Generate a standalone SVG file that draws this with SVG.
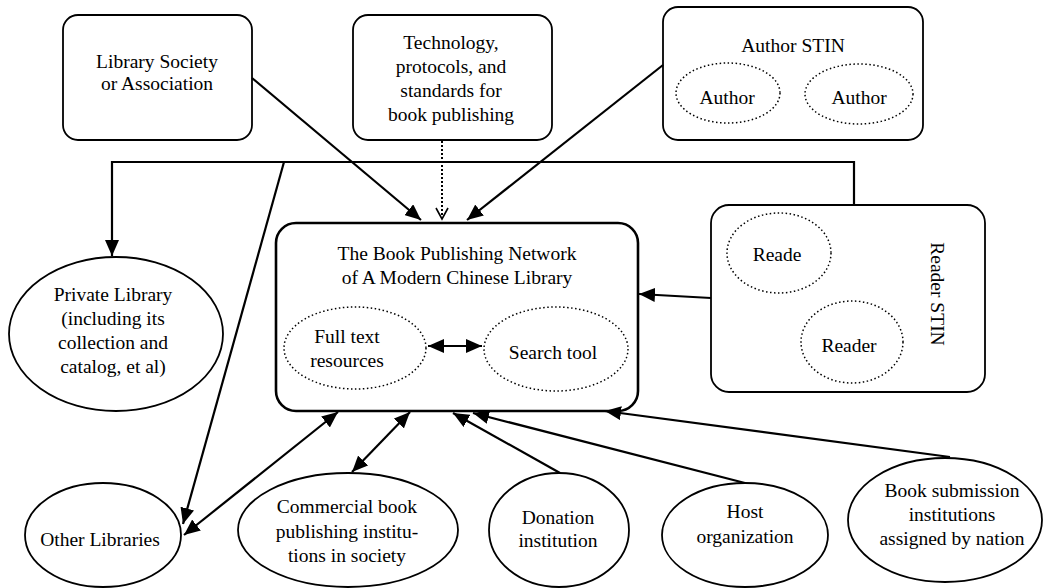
<svg xmlns="http://www.w3.org/2000/svg" width="1049" height="588" viewBox="0 0 1049 588" font-family="Liberation Serif, serif">
<defs>
<style>
text{font-size:19.5px;fill:#000;text-anchor:middle}
.box{fill:#fff;stroke:#000;stroke-width:1.8}
.main{fill:#fff;stroke:#000;stroke-width:2.6}
.ell{fill:#fff;stroke:#000;stroke-width:1.8}
.dot{fill:#fff;stroke:#000;stroke-width:1.5;stroke-dasharray:1.5,2.5}
.con{fill:none;stroke:#000;stroke-width:2.2}
.dotcon{fill:none;stroke:#000;stroke-width:2;stroke-dasharray:2,2}
</style>
<marker id="arr" viewBox="0 0 16 14" refX="16" refY="7" markerWidth="16" markerHeight="14" markerUnits="userSpaceOnUse" orient="auto-start-reverse">
<path d="M0,0 L16,7 L0,14 z" fill="#000"/>
</marker>
<marker id="open" viewBox="0 0 14 14" refX="12" refY="7" markerWidth="14" markerHeight="14" markerUnits="userSpaceOnUse" orient="auto">
<path d="M1,1 L12,7 L1,13" fill="none" stroke="#000" stroke-width="1.6"/>
</marker>
</defs>
<rect width="1049" height="588" fill="#fff"/>

<g id="library-society">
<rect class="box" x="63" y="15" width="189" height="125" rx="15"/>
<text x="157" y="68">Library Society</text>
<text x="157" y="90">or Association</text>
</g>

<g id="technology">
<rect class="box" x="353" y="15" width="199" height="125" rx="15"/>
<text x="451" y="49">Technology,</text>
<text x="451" y="73">protocols, and</text>
<text x="451" y="97">standards for</text>
<text x="451" y="121">book publishing</text>
</g>

<g id="author-stin">
<rect class="box" x="663" y="7" width="260" height="133" rx="15"/>
<text x="793" y="52">Author STIN</text>
<g id="author1">
<ellipse class="dot" cx="728" cy="93" rx="52" ry="30"/>
<text x="727" y="104">Author</text>
</g>
<g id="author2">
<ellipse class="dot" cx="859" cy="94" rx="54" ry="30"/>
<text x="859" y="104">Author</text>
</g>
</g>

<g id="main-network">
<rect class="main" x="276" y="223" width="362" height="188" rx="20"/>
<text x="457" y="260">The Book Publishing Network</text>
<text x="457" y="284">of A Modern Chinese Library</text>
<g id="full-text">
<ellipse class="dot" cx="355" cy="348" rx="71" ry="41"/>
<text x="347" y="343">Full text</text>
<text x="347" y="367">resources</text>
</g>
<g id="search-tool">
<ellipse class="dot" cx="556" cy="349" rx="72" ry="42"/>
<text x="553" y="359">Search tool</text>
</g>
</g>

<g id="reader-stin">
<rect class="box" x="711" y="205" width="274" height="187" rx="18"/>
<text x="937" y="294" transform="rotate(90 937 294)" dominant-baseline="central">Reader STIN</text>
<g id="reader1">
<ellipse class="dot" cx="779" cy="253" rx="52" ry="40"/>
<text x="777" y="261">Reade</text>
</g>
<g id="reader2">
<ellipse class="dot" cx="852" cy="342" rx="51" ry="41"/>
<text x="849" y="352">Reader</text>
</g>
</g>

<g id="private-library">
<ellipse class="ell" cx="116" cy="334" rx="107" ry="77"/>
<text x="113" y="301">Private Library</text>
<text x="113" y="325">(including its</text>
<text x="113" y="349">collection and</text>
<text x="113" y="373">catalog, et al)</text>
</g>

<g id="other-libraries">
<ellipse class="ell" cx="103" cy="535" rx="78" ry="52"/>
<text x="100" y="546">Other Libraries</text>
</g>

<g id="commercial">
<ellipse class="ell" cx="348" cy="530" rx="110" ry="57"/>
<text x="347" y="513">Commercial book</text>
<text x="347" y="538">publishing institu-</text>
<text x="347" y="562">tions in society</text>
</g>

<g id="donation">
<ellipse class="ell" cx="559" cy="530" rx="70" ry="57"/>
<text x="558" y="524">Donation</text>
<text x="558" y="547">institution</text>
</g>

<g id="host">
<ellipse class="ell" cx="745" cy="535" rx="83" ry="52"/>
<text x="745" y="518">Host</text>
<text x="745" y="543">organization</text>
</g>

<g id="book-submission">
<ellipse class="ell" cx="945" cy="520" rx="97" ry="62"/>
<text x="952" y="497">Book submission</text>
<text x="952" y="521">institutions</text>
<text x="952" y="545">assigned by nation</text>
</g>

<g id="connectors">
<path class="con" d="M854,205 V162 H112 V256" marker-end="url(#arr)"/>
<line class="con" x1="284" y1="162" x2="183" y2="524" marker-end="url(#arr)"/>
<line class="con" x1="252" y1="78" x2="421" y2="220" marker-end="url(#arr)"/>
<line class="dotcon" x1="442" y1="141" x2="442" y2="219" marker-end="url(#open)"/>
<line class="con" x1="663" y1="65" x2="467" y2="220" marker-end="url(#arr)"/>
<line class="con" x1="711" y1="298" x2="639" y2="294" marker-end="url(#arr)"/>
<line class="con" x1="184" y1="535" x2="338" y2="412" marker-start="url(#arr)" marker-end="url(#arr)"/>
<line class="con" x1="352" y1="472" x2="410" y2="412" marker-start="url(#arr)" marker-end="url(#arr)"/>
<line class="con" x1="560" y1="473" x2="453" y2="413" marker-end="url(#arr)"/>
<line class="con" x1="745" y1="483" x2="473" y2="413" marker-end="url(#arr)"/>
<line class="con" x1="950" y1="457" x2="605" y2="411" marker-end="url(#arr)"/>
<line class="con" x1="428" y1="346" x2="482" y2="346" marker-start="url(#arr)" marker-end="url(#arr)"/>
</g>
</svg>
